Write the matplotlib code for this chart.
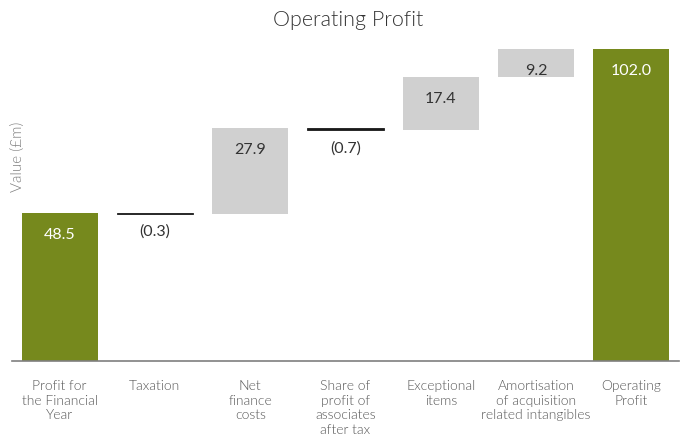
import matplotlib
matplotlib.use("Agg")
import matplotlib.pyplot as plt
import numpy as np

categories = ["Profit for\nthe Financial\nYear", "Taxation", "Net\nfinance\ncosts",
              "Share of\nprofit of\nassociates\nafter tax", "Exceptional\nitems",
              "Amortisation\nof acquisition\nrelated intangibles", "Operating\nProfit"]
values = [48.5, -0.3, 27.9, -0.7, 17.4, 9.2, 102.0]
labels = ["48.5", "(0.3)", "27.9", "(0.7)", "17.4", "9.2", "102.0"]
is_total = [True, False, False, False, False, False, True]

plt.rcParams['font.family'] = ['Lato', 'DejaVu Sans']

GREEN = "#76891d"
GREY = "#d0d0d0"
NEG = "#1a1a1a"

fig = plt.figure(figsize=(6.81, 4.41), dpi=100)
ax = fig.add_axes([12/681, 80/441, 667/681, 316/441])

x = np.arange(len(values))
bottoms, heights, colors = [], [], []
running = 0.0
for v, tot in zip(values, is_total):
    if tot:
        bottoms.append(0.0); heights.append(v); colors.append(GREEN)
        running = v
    else:
        if v >= 0:
            bottoms.append(running); heights.append(v); colors.append(GREY)
        else:
            bottoms.append(running + v); heights.append(-v); colors.append(NEG)
        running += v

ax.bar(x, heights, bottom=bottoms, width=0.8, color=colors,
       edgecolor=[c if c == NEG else "none" for c in colors], linewidth=0.6)

ax.set_xlim(-0.5, 6.5)
ax.set_ylim(0, 103.3)

for i, (b, h, v, tot, lab) in enumerate(zip(bottoms, heights, values, is_total, labels)):
    if v >= 0:
        ax.annotate(lab, (i, b + h), xytext=(0, -16), textcoords="offset points",
                    ha="center", va="center", fontsize=11.5,
                    color="white" if tot else "#333333")
    else:
        ax.annotate(lab, (i, b), xytext=(0, -13), textcoords="offset points",
                    ha="center", va="center", fontsize=11.5, color="#333333")

for s in ["top", "right", "left"]:
    ax.spines[s].set_visible(False)
ax.spines["bottom"].set_color("#7f7f7f")
ax.spines["bottom"].set_linewidth(1.2)
ax.set_yticks([])
ax.set_xticks(x)
ax.set_xticklabels(categories, fontsize=10, color="#595959", linespacing=1.25,
                   fontweight=300)
ax.tick_params(axis="x", length=0, pad=14)

fig.text(348/681, 1 - 20/441, "Operating Profit", ha="center", va="center",
         fontsize=15.5, color="#333333", fontweight=300)
fig.text(18/681, 1 - 157/441, "Value (£m)", rotation=90, ha="center", va="center",
         fontsize=11, color="#7f7f7f", fontweight=300)

fig.savefig("out.png", dpi=100)
